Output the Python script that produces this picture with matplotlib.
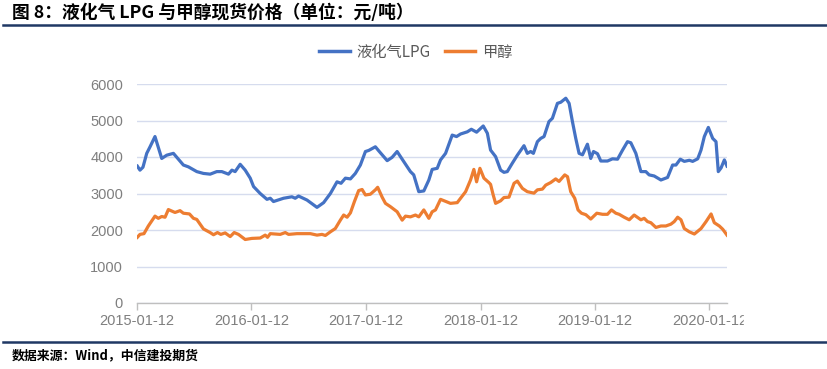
# LPG and methanol spot prices, 2015-01 to 2020-03
import numpy as np
import pandas as pd
import matplotlib
matplotlib.use("Agg")
import matplotlib.pyplot as plt
from matplotlib.patches import Rectangle
from matplotlib.lines import Line2D

# years elapsed since 2015-01-12, and price (yuan/ton)
lpg_yr = [0.003, 0.026, 0.052, 0.085, 0.114, 0.157, 0.216, 0.260, 0.318, 0.405,
          0.449, 0.522, 0.580, 0.639, 0.697, 0.741, 0.799, 0.829, 0.857, 0.901,
          0.945, 0.989, 1.018, 1.076, 1.135, 1.164, 1.192, 1.280, 1.353, 1.382,
          1.411, 1.485, 1.572, 1.630, 1.689, 1.747, 1.782, 1.820, 1.864, 1.907,
          1.951, 1.995, 2.024, 2.082, 2.111, 2.185, 2.228, 2.272, 2.316, 2.388,
          2.417, 2.461, 2.505, 2.549, 2.578, 2.622, 2.651, 2.695, 2.753, 2.791,
          2.826, 2.885, 2.920, 2.966, 3.024, 3.060, 3.088, 3.132, 3.176, 3.205,
          3.234, 3.278, 3.322, 3.380, 3.409, 3.438, 3.462, 3.497, 3.526, 3.555,
          3.598, 3.628, 3.672, 3.701, 3.745, 3.774, 3.803, 3.832, 3.861, 3.891,
          3.934, 3.963, 3.987, 4.022, 4.051, 4.109, 4.153, 4.197, 4.241, 4.284,
          4.313, 4.357, 4.401, 4.444, 4.473, 4.517, 4.576, 4.634, 4.678, 4.707,
          4.745, 4.780, 4.824, 4.853, 4.897, 4.926, 4.955, 4.990, 5.028, 5.057,
          5.077, 5.101, 5.130, 5.153]
lpg_val = [3750, 3640, 3720, 4100, 4280, 4560, 3960, 4050, 4100, 3780,
           3730, 3600, 3550, 3530, 3600, 3600, 3530, 3640, 3600, 3800,
           3640, 3420, 3190, 3000, 2840, 2870, 2780, 2870, 2910, 2870,
           2930, 2820, 2620, 2750, 3000, 3320, 3280, 3420, 3400, 3550,
           3780, 4150, 4180, 4280, 4170, 3900, 3990, 4150, 3940, 3600,
           3510, 3050, 3070, 3370, 3660, 3690, 3920, 4100, 4600, 4560,
           4630, 4690, 4760, 4680, 4850, 4650, 4190, 4010, 3640, 3580,
           3600, 3830, 4050, 4310, 4100, 4150, 4100, 4420, 4510, 4560,
           4970, 5060, 5470, 5500, 5610, 5470, 4970, 4510, 4100, 4060,
           4350, 3960, 4150, 4090, 3890, 3890, 3950, 3940, 4190, 4420,
           4390, 4100, 3600, 3600, 3510, 3480, 3370, 3440, 3780, 3780,
           3940, 3880, 3910, 3880, 3950, 4190, 4560, 4810, 4510, 4420,
           3600, 3700, 3920, 3750]

meoh_yr = [0.003, 0.026, 0.061, 0.099, 0.157, 0.186, 0.216, 0.245, 0.274, 0.332,
           0.376, 0.405, 0.458, 0.493, 0.522, 0.580, 0.639, 0.668, 0.703, 0.732,
           0.770, 0.814, 0.849, 0.886, 0.945, 1.004, 1.076, 1.120, 1.140, 1.164,
           1.251, 1.295, 1.324, 1.397, 1.514, 1.572, 1.616, 1.645, 1.689, 1.732,
           1.776, 1.805, 1.835, 1.864, 1.899, 1.936, 1.966, 1.995, 2.038, 2.082,
           2.102, 2.141, 2.170, 2.213, 2.272, 2.316, 2.345, 2.388, 2.432, 2.461,
           2.505, 2.549, 2.578, 2.607, 2.651, 2.738, 2.797, 2.826, 2.870, 2.913,
           2.942, 2.966, 2.995, 3.030, 3.073, 3.088, 3.111, 3.132, 3.176, 3.205,
           3.249, 3.293, 3.322, 3.366, 3.409, 3.467, 3.497, 3.541, 3.570, 3.613,
           3.657, 3.686, 3.736, 3.760, 3.788, 3.823, 3.852, 3.882, 3.920, 3.963,
           4.016, 4.066, 4.109, 4.144, 4.182, 4.211, 4.255, 4.299, 4.342, 4.401,
           4.430, 4.459, 4.488, 4.532, 4.576, 4.619, 4.663, 4.692, 4.722, 4.751,
           4.780, 4.824, 4.868, 4.926, 4.970, 5.014, 5.042, 5.086, 5.116, 5.153]
meoh_val = [1800, 1880, 1900, 2110, 2380, 2320, 2370, 2350, 2560, 2480,
            2530, 2460, 2440, 2320, 2290, 2030, 1930, 1870, 1930, 1880,
            1920, 1820, 1930, 1880, 1740, 1770, 1780, 1860, 1800, 1900,
            1880, 1930, 1880, 1900, 1900, 1860, 1880, 1850, 1950, 2040,
            2270, 2410, 2350, 2470, 2780, 3080, 3110, 2960, 2980, 3100,
            3170, 2900, 2730, 2640, 2500, 2270, 2380, 2360, 2410, 2360,
            2550, 2320, 2500, 2550, 2840, 2730, 2750, 2870, 3050, 3370,
            3660, 3320, 3690, 3420, 3300, 3250, 2960, 2730, 2800, 2890,
            2900, 3280, 3340, 3140, 3050, 3010, 3100, 3120, 3230, 3300,
            3400, 3330, 3510, 3460, 3050, 2870, 2550, 2460, 2420, 2300,
            2460, 2430, 2430, 2550, 2460, 2430, 2350, 2280, 2410, 2280,
            2320, 2230, 2200, 2070, 2110, 2110, 2160, 2230, 2350, 2280,
            2040, 1950, 1890, 2040, 2230, 2440, 2200, 2110, 2020, 1860]

tick_dates = ["2015-01-12", "2016-01-12", "2017-01-12", "2018-01-12",
              "2019-01-12", "2020-01-12"]
y_ticks = [0, 1000, 2000, 3000, 4000, 5000, 6000]
series_names = ["液化气LPG", "甲醇"]

start = pd.Timestamp("2015-01-12")
lpg_dates = start + pd.to_timedelta(np.array(lpg_yr) * 365.25, unit="D")
meoh_dates = start + pd.to_timedelta(np.array(meoh_yr) * 365.25, unit="D")

cjk = ["Noto Sans CJK SC", "DejaVu Sans"]
blue = "#4472C4"
orange = "#ED7D31"
grey_txt = "#7F7F7F"
navy = "#1F3864"

W, H = 827, 369
fig = plt.figure(figsize=(W / 100, H / 100), dpi=100)

# axes placed to match the plot area (pixels: x 137..727, y 84..303)
ax = fig.add_axes([137 / W, (H - 303) / H, (727 - 137) / W, (303 - 84) / H])
ax.plot(lpg_dates, lpg_val, color=blue, lw=2.3, solid_joinstyle="round", zorder=3)
ax.plot(meoh_dates, meoh_val, color=orange, lw=2.3, solid_joinstyle="round", zorder=3)

ax.set_ylim(0, 6000)
ax.set_xlim(start, lpg_dates[-1])
ax.set_yticks(y_ticks)
ax.set_yticklabels([str(v) for v in y_ticks], family="Liberation Sans",
                   fontsize=10.5, color=grey_txt)
td = pd.to_datetime(tick_dates)
ax.set_xticks(td)
ax.set_xticklabels(tick_dates, family="Liberation Sans", fontsize=10.5, color=grey_txt)
ax.tick_params(axis="y", length=0, pad=10)
ax.tick_params(axis="x", length=5, color="#BFBFBF", width=1, pad=3)
ax.grid(axis="y", color="#D6DCEE", lw=1)
ax.set_axisbelow(True)
for s in ["left", "right", "top"]:
    ax.spines[s].set_visible(False)
ax.spines["bottom"].set_color("#BFBFBF")
ax.spines["bottom"].set_linewidth(1)

# legend
handles = [Line2D([], [], color=blue, lw=2.5), Line2D([], [], color=orange, lw=2.5)]
fig.legend(handles, series_names, loc="center", bbox_to_anchor=(416 / W, 1 - 52 / H),
           ncol=2, frameon=False, prop={"family": cjk, "size": 11},
           labelcolor="#595959", handlelength=2.0, columnspacing=0.9, handletextpad=0.45)

# header / footer
fig.text(12 / W, 1 - 13 / H, "图 8：液化气 LPG 与甲醇现货价格（单位：元/吨）",
         family=cjk, fontsize=12.8, fontweight="bold", va="center", ha="left")
fig.add_artist(Line2D([3 / W, 1], [1 - 25 / H] * 2, color=navy, lw=1.8))
fig.add_artist(Line2D([3 / W, 1], [1 - 342 / H] * 2, color=navy, lw=1.8))
fig.text(12 / W, 1 - 355 / H, "数据来源：Wind，中信建投期货", family=cjk,
         fontsize=9.3, fontweight="bold", style="italic", va="center", ha="left")

# the source chart is cut off at its right edge
fig.add_artist(Rectangle((744 / W, (H - 330) / H), (W - 744) / W, 25 / H,
                         transform=fig.transFigure, color="white", zorder=10))

fig.savefig("out.png", dpi=100)
